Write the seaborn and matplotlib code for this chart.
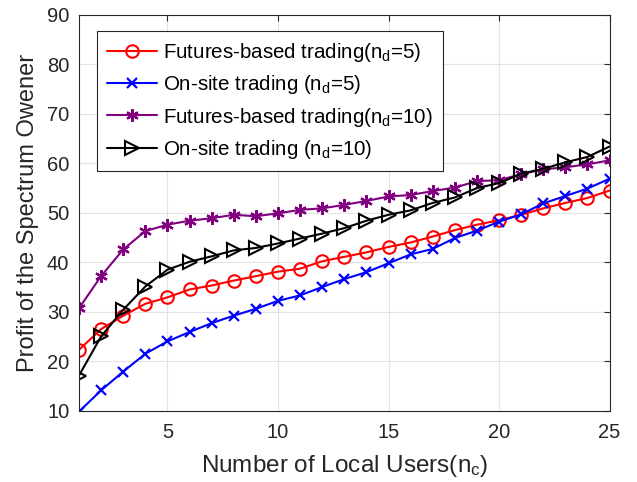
import matplotlib
matplotlib.use("Agg")
import matplotlib.pyplot as plt
import pandas as pd
import seaborn as sns

users = list(range(1, 26))

futures_nd5 = [22.3, 26.5, 29.2, 31.6, 32.9, 34.5, 35.3, 36.3, 37.2, 38.1, 38.7, 40.2, 41.1,
               42.0, 43.1, 44.0, 45.2, 46.5, 47.6, 48.5, 49.6, 50.9, 52.0, 53.0, 54.5]
onsite_nd5 = [9.8, 14.1, 17.9, 21.5, 24.0, 25.9, 27.7, 29.2, 30.6, 32.2, 33.3, 35.0, 36.6,
              38.0, 39.8, 41.6, 42.7, 44.9, 46.4, 48.2, 49.7, 51.9, 53.4, 54.9, 56.9]
futures_nd10 = [30.7, 37.2, 42.6, 46.3, 47.6, 48.4, 48.9, 49.6, 49.3, 49.9, 50.6, 50.9, 51.6,
                52.4, 53.3, 53.6, 54.4, 55.1, 56.4, 56.6, 57.8, 58.8, 59.2, 59.8, 60.6]
onsite_nd10 = [17.1, 25.0, 30.4, 35.1, 38.5, 40.1, 41.2, 42.4, 42.9, 43.8, 44.8, 45.8, 46.9,
               48.4, 49.6, 50.5, 52.0, 53.1, 55.0, 56.0, 57.9, 58.9, 60.2, 61.3, 63.4]

labels = ["Futures-based trading(n$_d$=5)", "On-site trading (n$_d$=5)",
          "Futures-based trading(n$_d$=10)", "On-site trading (n$_d$=10)"]

df = pd.DataFrame({
    "users": users * 4,
    "profit": futures_nd5 + onsite_nd5 + futures_nd10 + onsite_nd10,
    "series": sum([[lab] * len(users) for lab in labels], []),
})

sns.set_style("whitegrid")
plt.rcParams["font.family"] = ["Liberation Sans", "DejaVu Sans"]
plt.rcParams["mathtext.fontset"] = "custom"
plt.rcParams["mathtext.rm"] = "Liberation Sans"
plt.rcParams["mathtext.it"] = "Liberation Sans"
plt.rcParams["mathtext.default"] = "regular"

# MATLAB-like marker styles
styles = {
    labels[0]: dict(color="#ff0000", marker="o", ms=9, mfc="none", mew=1.5),
    labels[1]: dict(color="#0000ff", marker="x", ms=7.5, mew=1.6),
    labels[2]: dict(color="#800080", marker=(6, 2, 0), ms=9, mew=1.6),
    labels[3]: dict(color="#000000", marker=">", ms=10, mfc="none", mew=1.5),
}

fig = plt.figure(figsize=(6.37, 4.82), dpi=100)
ax = fig.add_axes([0.124, 0.148, 0.833, 0.821])

for lab in labels:
    st = styles[lab]
    sns.lineplot(data=df[df.series == lab], x="users", y="profit", ax=ax, label=lab,
                 color=st["color"], marker=st["marker"], markersize=st["ms"],
                 markerfacecolor=st.get("mfc", st["color"]), markeredgecolor=st["color"],
                 markeredgewidth=st["mew"], linewidth=1.5)

ax.set_xlim(1, 25)
ax.set_ylim(10, 90)
ax.set_xticks([5, 10, 15, 20, 25])
ax.set_yticks(range(10, 91, 10))
ax.grid(True, color="#e3e3e3", linewidth=0.8)
for sp in ax.spines.values():
    sp.set_color("#262626")
    sp.set_linewidth(0.8)
ax.tick_params(direction="in", length=4, width=0.8, labelsize=14.5, colors="#262626",
               top=True, right=True, labelcolor="#262626")
ax.tick_params(axis="x", pad=9)
ax.tick_params(axis="y", pad=7)
ax.set_xlabel("Number of Local Users(n$_c$)", fontsize=17.5, color="#262626", labelpad=8)
ax.set_ylabel("Profit of the Spectrum Owener", fontsize=17, color="#262626", labelpad=6)

leg = ax.legend(loc="upper left", bbox_to_anchor=(0.034, 0.96), borderaxespad=0,
                fontsize=14.8, frameon=True, fancybox=False, framealpha=1,
                edgecolor="#262626", handlelength=2.4, handletextpad=0.3,
                borderpad=0.5, labelspacing=0.45)
leg.get_frame().set_linewidth(0.8)
for t in leg.get_texts():
    t.set_color("#000000")

plt.savefig("out.png", dpi=100)
